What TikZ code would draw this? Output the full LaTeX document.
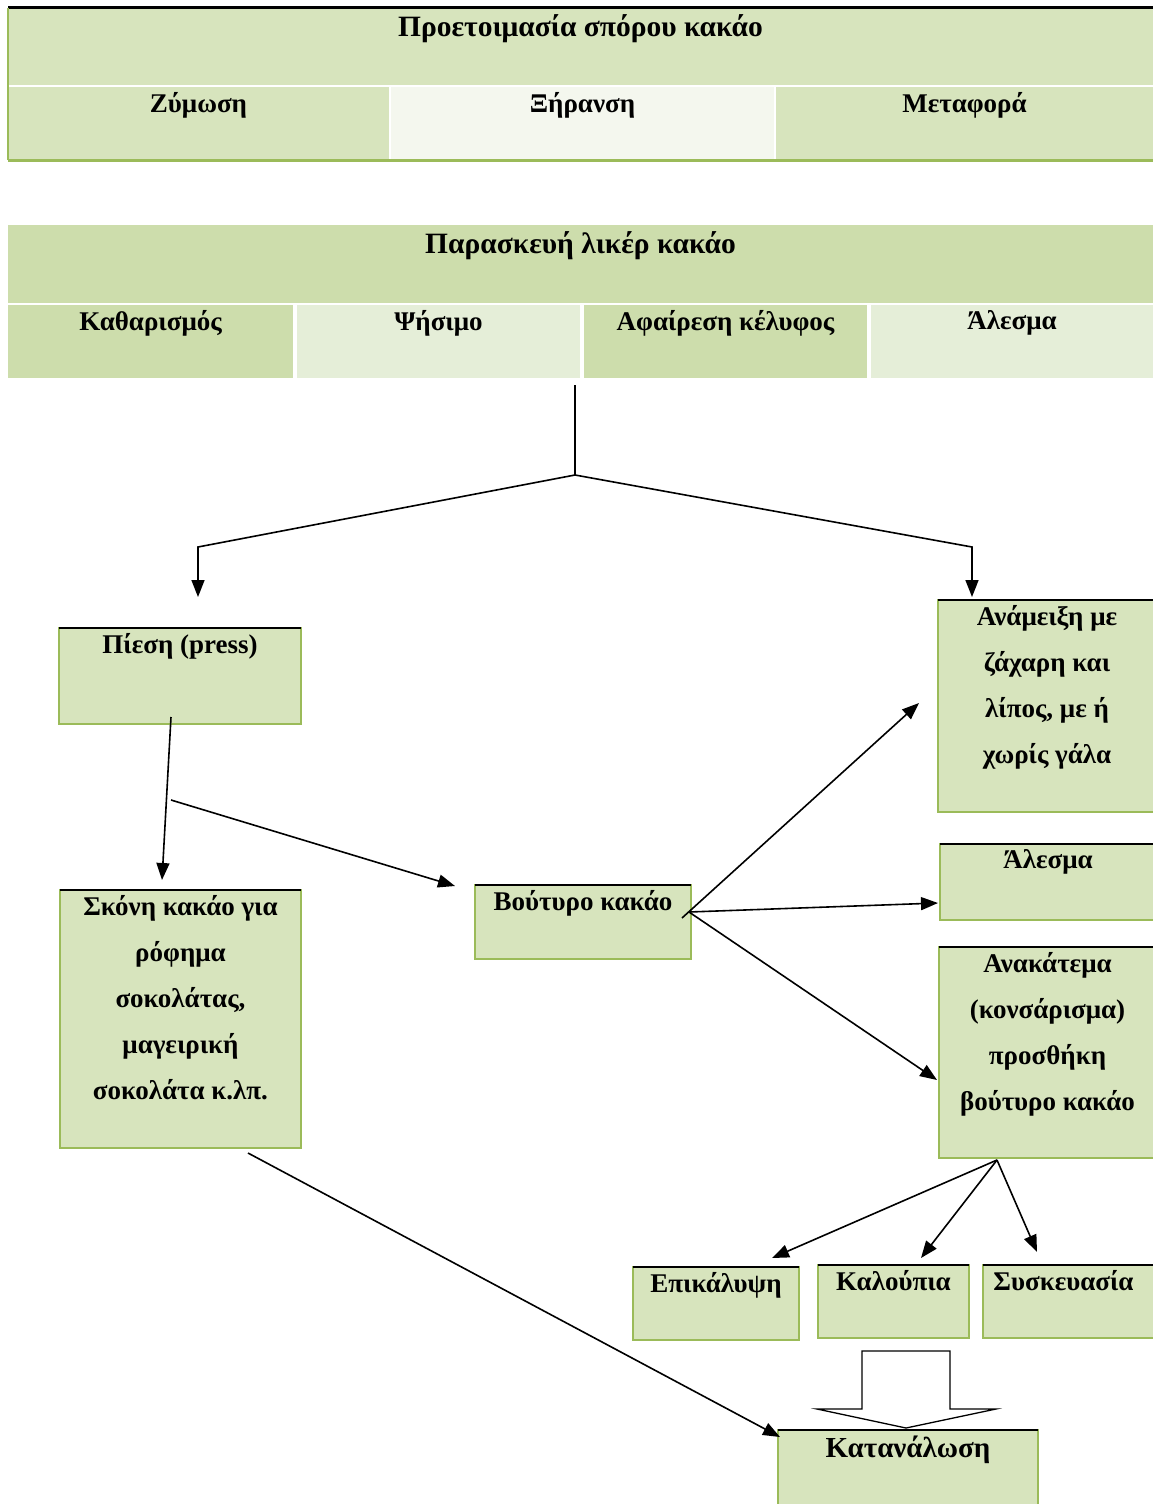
\documentclass[tikz,border=0pt]{standalone}
\usepackage{fontspec}
\setmainfont{Liberation Serif}
\usetikzlibrary{arrows.meta,positioning}
\definecolor{rowgreen}{HTML}{D7E4BD}
\definecolor{palegreen}{HTML}{F4F7EE}
\definecolor{liqgreen}{HTML}{CDDDAC}
\definecolor{liqlight}{HTML}{E5EED8}
\definecolor{edgegreen}{HTML}{9BBB59}

\begin{document}
\begin{tikzpicture}[
    x=1pt, y=-1pt,
    tabcell/.style={anchor=north west, inner sep=0pt, outer sep=0pt, draw=none},
    procbox/.style={anchor=north west, inner sep=0pt, outer sep=0pt, draw=edgegreen, line width=2pt, fill=rowgreen},
    celltext/.style={anchor=north, inner sep=5.5pt, align=center, font=\fontsize{27}{46}\selectfont\bfseries},
    headtext/.style={celltext, inner sep=6pt, font=\fontsize{29.5}{46}\selectfont\bfseries},
    link/.style={draw, line width=1.6pt},
    arr/.style={link, -{Triangle[length=17pt,width=13pt]}},
    bigarrow/.style={draw, fill=white, line width=1.3pt, line join=miter}
  ]
    \useasboundingbox (0,0) rectangle (1153,1504);

    % first table
    \node[tabcell, fill=rowgreen, minimum width=1145pt, minimum height=77pt,
      label={[headtext]north:Προετοιμασία σπόρου κακάο}] (prep) at (8,8) {};
    \node[tabcell, fill=rowgreen, minimum width=381pt, minimum height=73pt,
      label={[celltext]north:Ζύμωση}] (ferm) at (8,87) {};
    \node[tabcell, fill=palegreen, minimum width=383pt, minimum height=73pt,
      right=2pt of ferm, label={[celltext]north:Ξήρανση}] (dry) {};
    \node[tabcell, fill=rowgreen, minimum width=377pt, minimum height=73pt,
      right=2pt of dry, label={[celltext]north:Μεταφορά}] (transp) {};
    \draw[line width=3pt] (prep.north west) -- (prep.north east);
    \draw[edgegreen, line width=2pt] (prep.north west) -- (ferm.south west);
    \draw[edgegreen, line width=3pt] (ferm.south west) -- (transp.south east);

    % second table
    \node[tabcell, fill=liqgreen, minimum width=1145pt, minimum height=78pt,
      label={[headtext]north:Παρασκευή λικέρ κακάο}] (liq) at (8,225) {};
    \node[tabcell, fill=liqgreen, minimum width=285pt, minimum height=73pt,
      label={[celltext]north:Καθαρισμός}] (clean) at (8,305) {};
    \node[tabcell, fill=liqlight, minimum width=283pt, minimum height=73pt,
      right=4pt of clean, label={[celltext]north:Ψήσιμο}] (roast) {};
    \node[tabcell, fill=liqgreen, minimum width=283pt, minimum height=73pt,
      right=4pt of roast, label={[celltext]north:Αφαίρεση κέλυφος}] (shell) {};
    \node[tabcell, fill=liqlight, minimum width=282pt, minimum height=73pt,
      right=4pt of shell, label={[celltext]north:Άλεσμα}] (grind) {};

    % process boxes
    \node[procbox, minimum width=242pt, minimum height=96pt,
      label={[celltext]north:Πίεση (press)}] (press) at (59,628) {};
    \node[procbox, minimum width=218pt, minimum height=212pt,
      label={[celltext]north:Ανάμειξη με\\ζάχαρη και\\λίπος, με ή\\χωρίς γάλα}] (mixing) at (938,600) {};
    \node[procbox, minimum width=216pt, minimum height=76pt,
      label={[celltext]north:Άλεσμα}] (milling) at (940,844) {};
    \node[procbox, minimum width=217pt, minimum height=211pt,
      label={[celltext]north:Ανακάτεμα\\(κονσάρισμα)\\προσθήκη\\βούτυρο κακάο}] (conching) at (939,947) {};
    \node[procbox, minimum width=241pt, minimum height=258pt,
      label={[celltext]north:Σκόνη κακάο για\\ρόφημα\\σοκολάτας,\\μαγειρική\\σοκολάτα κ.λπ.}] (powder) at (60,890) {};
    \node[procbox, minimum width=216pt, minimum height=74pt,
      label={[celltext]north:Βούτυρο κακάο}] (butter) at (475,885) {};
    \node[procbox, minimum width=166pt, minimum height=73pt,
      label={[celltext]north:Επικάλυψη}] (coating) at (633,1267) {};
    \node[procbox, minimum width=151pt, minimum height=73pt,
      label={[celltext]north:Καλούπια}] (moulds) at (818,1265) {};
    \node[procbox, minimum width=173pt, minimum height=73pt,
      label={[celltext, xshift=-6pt]north:Συσκευασία}] (packing) at (983,1265) {};
    \node[procbox, minimum width=260pt, minimum height=80pt,
      label={[headtext, font=\fontsize{29}{46}\selectfont\bfseries]north:Κατανάλωση}] (consume) at (778,1430) {};
    \foreach \n in {press,mixing,milling,conching,powder,butter,coating,moulds,packing,consume}
      \draw[line width=2.5pt] (\n.north west) -- (\n.north east);

    % connectors
    \coordinate (trunk) at ([xshift=-9pt,yshift=-7pt]shell.south west);
    \coordinate (split) at ([yshift=-90pt]trunk);
    \coordinate (lbend) at ([xshift=18pt,yshift=81pt]press.north);
    \coordinate (rbend) at ([xshift=34pt,yshift=53pt]mixing.north west);
    \coordinate (fork) at ([xshift=-9pt,yshift=-76pt]press.south);
    \coordinate (bsrc) at ([xshift=-2pt,yshift=-27pt]butter.north east);
    \coordinate (msrc) at ([xshift=58pt,yshift=-2pt]conching.south west);
    \draw[link] (trunk) -- (split);
    \draw[arr] (split) -- (lbend) -- ([xshift=18pt,yshift=31pt]press.north);
    \draw[arr] (split) -- (rbend) -- ([xshift=34pt,yshift=3pt]mixing.north west);
    \draw[arr] ([xshift=-9pt,yshift=7pt]press.south) -- ([xshift=-18.5pt,yshift=10pt]powder.north);
    \draw[arr] (fork) -- ([xshift=-20pt,yshift=-1pt]butter.north west);
    \draw[arr] ([xshift=-9pt,yshift=-33pt]butter.north east) -- ([xshift=-19pt,yshift=3pt]mixing.west);
    \draw[arr] (bsrc) -- ([xshift=-2pt,yshift=-21pt]milling.west);
    \draw[arr] (bsrc) -- ([xshift=-2pt,yshift=-27.5pt]conching.west);
    \draw[arr] (msrc) -- ([xshift=-27pt,yshift=9pt]coating.north east);
    \draw[arr] (msrc) -- ([xshift=27.5pt,yshift=7pt]moulds.north);
    \draw[arr] (msrc) -- ([xshift=54pt,yshift=13pt]packing.north west);
    \draw[arr] ([xshift=67.5pt,yshift=-5pt]powder.south) -- ([xshift=2pt,yshift=-7pt]consume.north west);

    % block arrow into consumption
    \draw[bigarrow] ([shift={(-46,-79)}]consume.north) -- ([shift={(42,-79)}]consume.north)
      -- ([shift={(42,-21)}]consume.north) -- ([shift={(88,-21)}]consume.north)
      -- ([shift={(-2,-2)}]consume.north) -- ([shift={(-91,-21)}]consume.north)
      -- ([shift={(-46,-21)}]consume.north) -- cycle;
  \end{tikzpicture}
\end{document}
